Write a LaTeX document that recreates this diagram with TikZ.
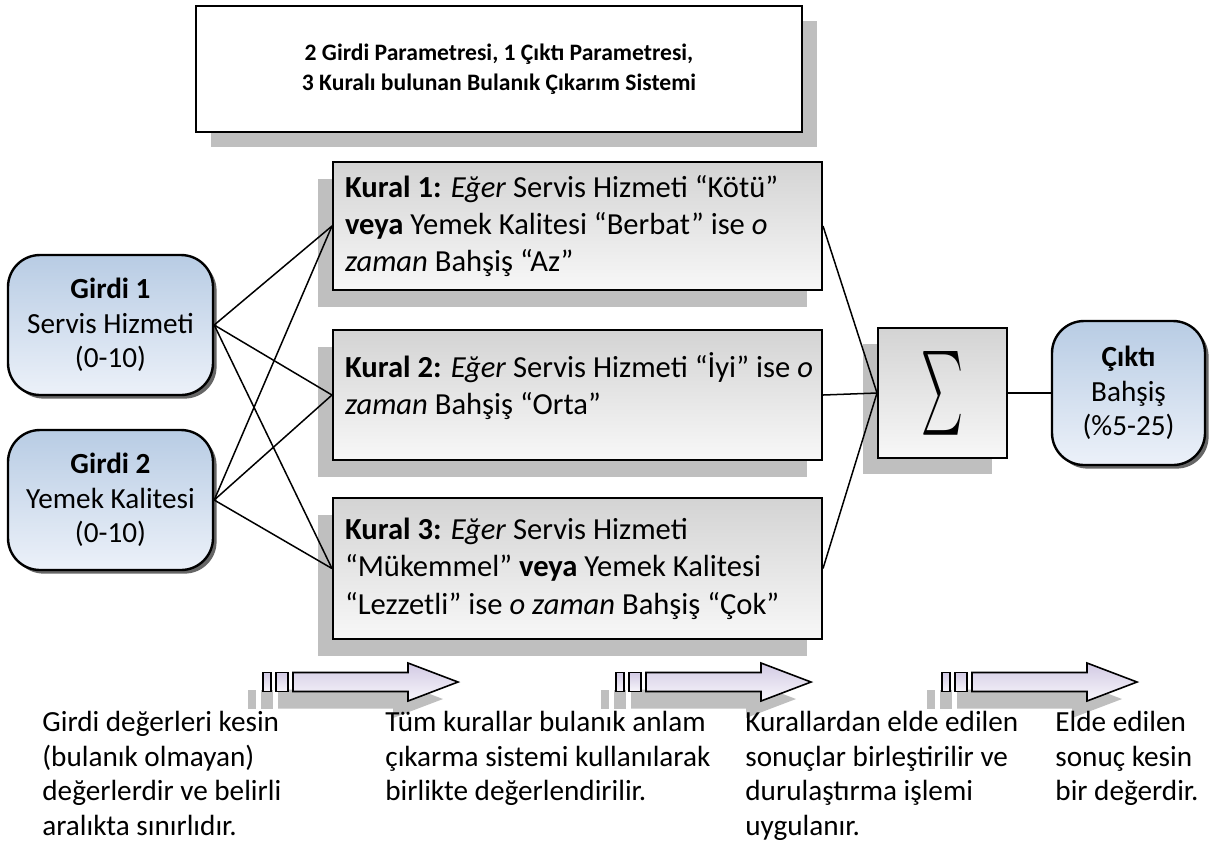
\documentclass[tikz,border=0pt]{standalone}
\usepackage{fontspec}
\setmainfont{Carlito}
\usepackage{graphicx}
\usetikzlibrary{shadows}
\definecolor{inTop}{RGB}{184,204,228}
\definecolor{inBot}{RGB}{236,241,249}
\definecolor{arTop}{RGB}{210,202,228}
\definecolor{arBot}{RGB}{248,246,251}
\definecolor{shadowgray}{RGB}{191,191,191}
\begin{document}
\begin{tikzpicture}[x=0.5pt,y=-0.5pt,
  every node/.style={font=\fontsize{14.6}{17.2}\selectfont},
  conn/.style={draw=black, line width=0.75pt},
  titlebox/.style={draw=black, line width=1pt, fill=white, minimum width=303pt, minimum height=63pt,
    align=center, font=\fontsize{11.8}{15}\selectfont\bfseries,
    drop shadow={shadow xshift=7.5pt, shadow yshift=-7.5pt, fill=shadowgray, opacity=1}},
  rulebox/.style={draw=black, line width=1pt, top color=black!17, bottom color=black!3,
    minimum width=244.5pt, text width=232.5pt, inner xsep=6pt, align=flush left,
    font=\fontsize{15.3}{18.7}\selectfont,
    drop shadow={shadow xshift=-7.5pt, shadow yshift=-8.5pt, fill=shadowgray, opacity=1}},
  sigbox/.style={draw=black, line width=1pt, top color=black!17, bottom color=black!3,
    minimum width=64.5pt, minimum height=65pt, inner sep=0pt,
    drop shadow={shadow xshift=-7.5pt, shadow yshift=-8pt, fill=shadowgray, opacity=1}},
  iobox/.style={draw=black, line width=1.2pt, rounded corners=16pt, top color=inTop, bottom color=inBot,
    minimum height=70pt, align=center, inner sep=2pt,
    drop shadow={shadow xshift=1.8pt, shadow yshift=-1.8pt, fill=black!60, opacity=1}},
  bottomtext/.style={anchor=base west, align=flush left, inner sep=0pt},
  sarrow/.pic={
    \begin{scope}[shift={(-15,17)}]
      \fill[shadowgray] (0,-9.5) rectangle (8,9.5);
      \fill[shadowgray] (13,-9.5) rectangle (25,9.5);
      \fill[shadowgray] (30,-9.5) -- (145,-9.5) -- (145,-19) -- (195,0) -- (145,19) -- (145,9.5) -- (30,9.5) -- cycle;
    \end{scope}
    \draw[line width=0.8pt, top color=arTop, bottom color=arBot] (0,-9.5) rectangle (8,9.5);
    \draw[line width=0.8pt, top color=arTop, bottom color=arBot] (13,-9.5) rectangle (25,9.5);
    \draw[line width=0.8pt, line join=miter, top color=arTop, bottom color=arBot]
      (30,-9.5) -- (145,-9.5) -- (145,-19) -- (195,0) -- (145,19) -- (145,9.5) -- (30,9.5) -- cycle;
  }]
\useasboundingbox (0,0) rectangle (1213,859);

% title
\node[titlebox] (title) at (499,69) {2 Girdi Parametresi, 1 Çıktı Parametresi,\\3 Kuralı bulunan Bulanık Çıkarım Sistemi};

% inputs
\node[iobox, minimum width=102.5pt] (g1) at (110.5,325) {\textbf{Girdi 1}\\Servis Hizmeti\\(0-10)};
\node[iobox, minimum width=102.5pt] (g2) at (110.5,500) {\textbf{Girdi 2}\\Yemek Kalitesi\\(0-10)};

% rules
\node[rulebox, minimum height=64pt] (r1) at (577.5,226)
  {\mbox{\textbf{Kural 1:} \textit{Eğer} Servis Hizmeti “Kötü”}\\\mbox{\textbf{veya} Yemek Kalitesi “Berbat” ise \textit{o}}\\\mbox{\textit{zaman} Bahşiş “Az”}};
\node[rulebox, minimum height=65pt] (r2) at (577.5,395)
  {\mbox{\textbf{Kural 2:} \textit{Eğer} Servis Hizmeti “İyi” ise \textit{o}}\\\mbox{\textit{zaman} Bahşiş “Orta”}\\[-7pt]\mbox{}};
\node[rulebox, minimum height=70.5pt] (r3) at (577.5,568.5)
  {\mbox{\textbf{Kural 3:} \textit{Eğer} Servis Hizmeti}\\\mbox{“Mükemmel” \textbf{veya} Yemek Kalitesi}\\\mbox{“Lezzetli” ise \textit{o zaman} Bahşiş “Çok”}};

% sum
\node[sigbox] (sum) at (942.5,393) {\resizebox{21pt}{36pt}{$\sum$}};

% output
\node[iobox, minimum width=76.5pt, minimum height=72pt] (out) at (1128.5,393) {\textbf{Çıktı}\\Bahşiş\\(\%5-25)};

% connectors
\foreach \g in {g1,g2}{
  \foreach \r in {r1,r2,r3}{
    \draw[conn] (\g.east) -- (\r.west);
  }
}
\foreach \r in {r1,r2,r3}{
  \draw[conn] (\r.east) -- (sum.west);
}
\draw[conn] (sum.east) -- (out.west);

% striped arrows
\pic at (263,682) {sarrow};
\pic at (616,682) {sarrow};
\pic at (942,682) {sarrow};

% bottom texts (anchor base = last line)
\node[bottomtext] (t1) at (42,835) {Girdi değerleri kesin\\(bulanık olmayan)\\değerlerdir ve belirli\\aralıkta sınırlıdır.};
\node[bottomtext] (t2) at (385,800.7) {Tüm kurallar bulanık anlam\\çıkarma sistemi kullanılarak\\birlikte değerlendirilir.};
\node[bottomtext] (t3) at (745,835) {Kurallardan elde edilen\\sonuçlar birleştirilir ve\\durulaştırma işlemi\\uygulanır.};
\node[bottomtext] (t4) at (1055,800.7) {Elde edilen\\sonuç kesin\\bir değerdir.};
\end{tikzpicture}
\end{document}
